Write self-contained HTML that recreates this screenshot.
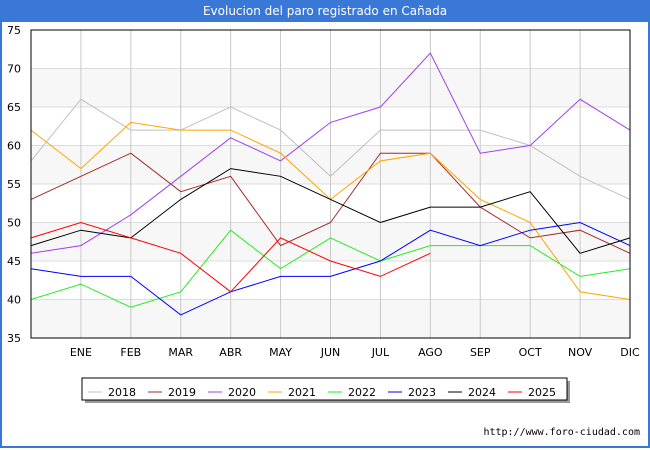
<!DOCTYPE html>
<html><head><meta charset="utf-8"><style>
body{margin:0;width:650px;height:450px;background:#fff;font-family:"DejaVu Sans",sans-serif;overflow:hidden;position:relative}
#frame{position:absolute;left:0;top:0;width:646px;height:446px;border:2px solid #3a78d8;border-top:none}
#title{position:absolute;left:0;top:0;width:650px;height:22px;background:#3a78d8;color:#fff;font-size:12px;text-align:center;line-height:22px}
#url{position:absolute;right:10px;top:427px;font-size:10px;font-family:"DejaVu Sans Mono",monospace}
</style></head><body>
<div id="frame"></div>
<div id="title">Evolucion del paro registrado en Cañada</div>
<svg id="chart" width="650" height="450" style="position:absolute;left:0;top:0"></svg>
<div id="url">http://www.foro-ciudad.com</div>
<script>
const months=["","ENE","FEB","MAR","ABR","MAY","JUN","JUL","AGO","SEP","OCT","NOV","DIC"];
const yTicks=[35,40,45,50,55,60,65,70,75];
const years=["2018","2019","2020","2021","2022","2023","2024","2025"];
const colors=["#c0c0c0","#a52a2a","#a040f0","#ffa500","#22ee22","#0000ff","#000000","#ff0000"];
const s2018=[58,66,62,62,65,62,56,62,62,62,60,56,53];
const s2019=[53,56,59,54,56,47,50,59,59,52,48,49,46];
const s2020=[46,47,51,56,61,58,63,65,72,59,60,66,62];
const s2021=[62,57,63,62,62,59,53,58,59,53,50,41,40];
const s2022=[40,42,39,41,49,44,48,45,47,47,47,43,44];
const s2023=[44,43,43,38,41,43,43,45,49,47,49,50,47];
const s2024=[47,49,48,53,57,56,53,50,52,52,54,46,48];
const s2025=[48,50,48,46,41,48,45,43,46];
const series=[s2018,s2019,s2020,s2021,s2022,s2023,s2024,s2025];
const L=31,R=630,T=30,B=338,ymin=35,ymax=75;
const xs=i=>L+i*(R-L)/(months.length-1);
const ys=v=>B-(v-ymin)/(ymax-ymin)*(B-T);
const svg=document.getElementById('chart');
const NS="http://www.w3.org/2000/svg";
function mk(t,a){const e=document.createElementNS(NS,t);for(const k in a)e.setAttribute(k,a[k]);svg.appendChild(e);return e;}
for(let i=0;i<yTicks.length-1;i++){
 if(i%2==0){const r=mk('rect',{x:L,y:ys(yTicks[i+1]),width:R-L,height:ys(yTicks[i])-ys(yTicks[i+1]),fill:'#f7f7f7'});
 
 }
}
yTicks.forEach(v=>{
 const l=mk('line',{x1:L,x2:R,y1:ys(v),y2:ys(v),stroke:'#dddddd'});
 
 
 const t=mk('text',{x:L-10,y:ys(v)+4,'text-anchor':'end','font-size':11,fill:'#000'});t.textContent=v;
 
 
});
months.forEach((m,i)=>{
 if(i==0)return;
 const l=mk('line',{x1:xs(i),x2:xs(i),y1:T,y2:B,stroke:'#c8c8c8'});
 
 
 const t=mk('text',{x:xs(i),y:356,'text-anchor':'middle','font-size':11,fill:'#000'});t.textContent=m;
 
 
});
series.forEach((s,k)=>{
 const p=mk('polyline',{points:s.map((v,i)=>xs(i)+','+ys(v)).join(' '),fill:'none',stroke:colors[k],'stroke-width':1});
 
 
});
const fr=mk('rect',{x:L,y:T,width:R-L,height:B-T,fill:'none',stroke:'#000'});


const sh=mk('rect',{x:85,y:381,width:485,height:22,fill:'#999'});


const lg=mk('rect',{x:82,y:378,width:485,height:22,fill:'#fff',stroke:'#000'});


years.forEach((y,k)=>{
 const x0=88+k*60;
 const l=mk('line',{x1:x0,x2:x0+14,y1:392,y2:392,stroke:colors[k]});
 
 
 const t=mk('text',{x:x0+20,y:396,'font-size':11,fill:'#000'});t.textContent=y;
 
 
});
</script>
</body></html>
